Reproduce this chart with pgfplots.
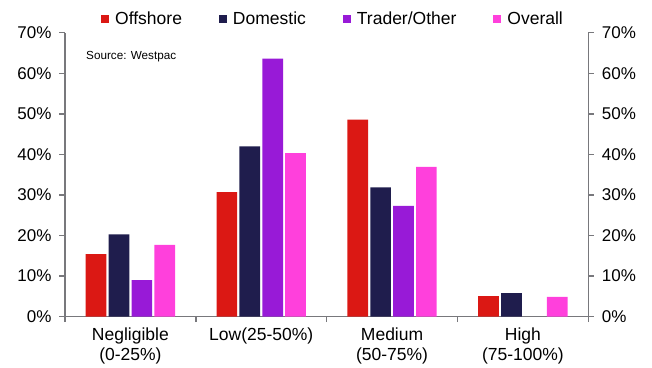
\documentclass[border=0pt]{standalone}
\usepackage{fontspec}
\setmainfont{Liberation Sans}
\usepackage{pgfplots}
\pgfplotsset{compat=1.18}
\definecolor{offc}{RGB}{219,24,20}
\definecolor{domc}{RGB}{31,29,77}
\definecolor{trac}{RGB}{152,26,215}
\definecolor{ovec}{RGB}{255,64,220}
\definecolor{axgray}{RGB}{120,120,124}
\begin{document}
\begin{tikzpicture}
\pgfplotsset{
  common/.style={
    scale only axis, width=523.3pt, height=284pt,
    ymin=0, ymax=70, ytick={0,10,...,70},
    xmin=-0.5, xmax=3.5,
    yticklabel={\pgfmathprintnumber{\tick}\%},
    /pgf/number format/assume math mode=true,
    tick label style={font=\fontsize{17}{20}\selectfont},
    axis line style={draw=axgray, line width=1.4pt},
    tick style={draw=axgray, line width=1.4pt},
    major tick length=5.5pt, tick align=outside,
    clip=false,
  }
}
\begin{axis}[common,
  axis y line*=left, axis x line*=bottom,
  yticklabel style={xshift=-4.5pt},
  xtick={-0.5,0.5,1.5,2.5,3.5}, xticklabels={},
  extra x ticks={0,1,2,3},
  extra x tick labels={{Negligible\\(0-25\%)},{Low(25-50\%)},{Medium\\(50-75\%)},{High\\(75-100\%)}},
  extra x tick style={major tick length=0pt, xticklabel style={align=center, yshift=-8pt, font=\fontsize{17.5}{19.5}\selectfont}},
  ybar, bar width=0.158,
  legend image code/.code={\fill[#1] (0pt,-4pt) rectangle (8pt,4pt);},
  legend style={at={(axis description cs:0,1)}, anchor=west, xshift=36pt, yshift=14pt,
    draw=none, fill=none, inner sep=0pt, legend columns=4,
    font=\fontsize{17.5}{20}\selectfont,
    nodes={inner sep=0pt},
    /tikz/every even column/.append style={column sep=37pt},
    /tikz/every odd column/.append style={column sep=6pt}},
  legend cell align=left,
]
\addplot[fill=offc, draw=none, bar shift=-0.2625] coordinates {(0,15.4) (1,30.7) (2,48.6) (3,5.1)};
\addplot[fill=domc, draw=none, bar shift=-0.0875] coordinates {(0,20.3) (1,42.0) (2,31.9) (3,5.8)};
\addplot[fill=trac, draw=none, bar shift=0.0875] coordinates {(0,9.0) (1,63.6) (2,27.3)};
\addplot[fill=ovec, draw=none, bar shift=0.2625] coordinates {(0,17.7) (1,40.3) (2,36.9) (3,4.9)};
\legend{Offshore, Domestic, Trader/Other, Overall}
\node[anchor=base west, inner sep=0pt, font=\fontsize{11.7}{14}\selectfont] at (axis description cs:0.0402,0.907) {Source: Westpac};
\end{axis}
\begin{axis}[common,
  axis y line*=right, axis x line=none,
  yticklabel style={xshift=4.5pt},
]
\end{axis}
\pgfresetboundingbox
\path (-65pt,-50.3pt) rectangle (587pt,316.7pt);
\end{tikzpicture}
\end{document}
